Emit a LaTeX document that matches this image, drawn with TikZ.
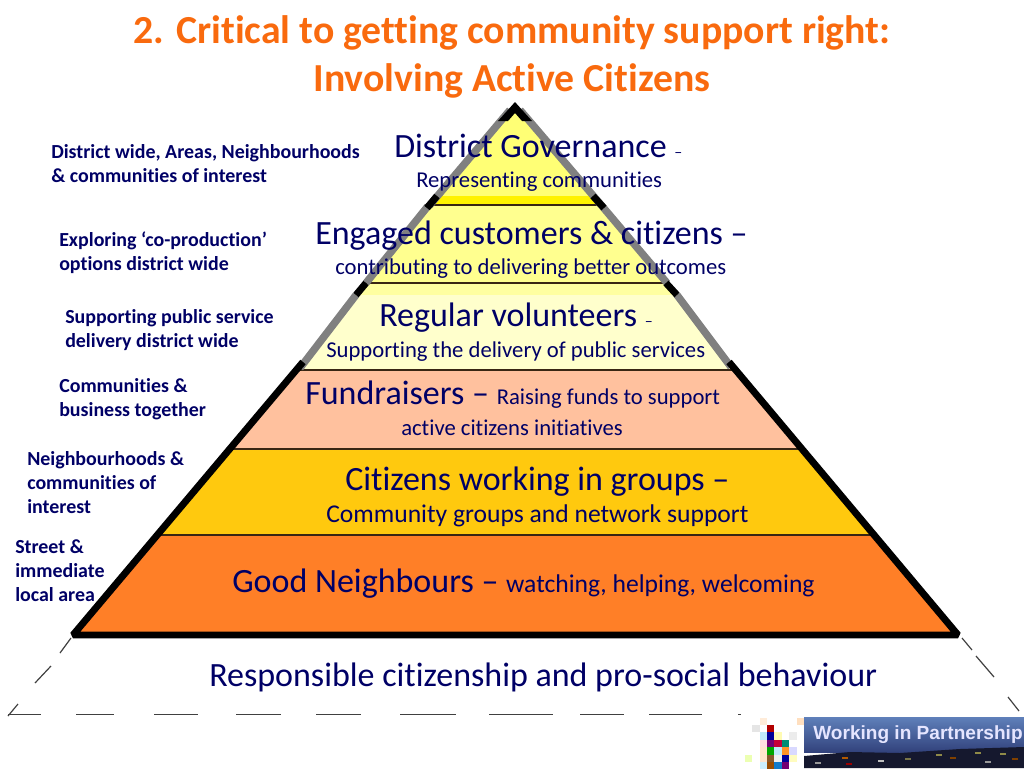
\documentclass[tikz,border=0pt]{standalone}
\usepackage{fontspec}
\setmainfont{Carlito}[Ligatures=NoCommon]
\newfontfamily\logofont{Liberation Sans}
\definecolor{navytext}{HTML}{000066}
\definecolor{titleorange}{HTML}{F96A0E}
\definecolor{layerone}{HTML}{FFFF75}
\definecolor{layertwo}{HTML}{FFFF8F}
\definecolor{layerband}{HTML}{FFFFA0}
\definecolor{layerthree}{HTML}{FFFFCC}
\definecolor{layerfour}{HTML}{FFC19E}
\definecolor{layerfive}{HTML}{FFC90E}
\definecolor{layersix}{HTML}{FF7F27}
\definecolor{skytop}{HTML}{5F80BA}
\definecolor{skylow}{HTML}{32427C}
\definecolor{townnight}{HTML}{15182E}
\tikzset{
	headline/.style={anchor=base, inner sep=0pt, text=titleorange, font=\fontsize{29.8}{29.8}\selectfont\bfseries},
	sidenote/.style={anchor=base west, inner sep=0pt, text=navytext, font=\fontsize{14.95}{14.95}\selectfont\bfseries},
	bigline/.style={anchor=base west, inner sep=0pt, text=navytext, font=\fontsize{25.5}{25.5}\selectfont},
	smallline/.style={anchor=base west, inner sep=0pt, text=navytext, font=\fontsize{17}{17}\selectfont},
	layerline/.style={line width=0.85pt, black!70!brown},
	edgeblack/.style={line width=5.2pt, black},
	edgegray/.style={line width=5.6pt, gray},
	dashpiece/.style={line width=0.9pt, black!75},
}
\begin{document}
\begin{tikzpicture}[x=0.75pt,y=-0.75pt]
	\useasboundingbox (0,0) rectangle (1024,768);
	% layers of the pyramid
	\fill[layerone] (515,103)--(429,205)--(601,205)--cycle;
	\fill[yellow] (436,196)--(594,196)--(601,205)--(429,205)--cycle;
	\fill[layertwo] (429,205)--(601,205)--(667,283)--(365,283)--cycle;
	\fill[layerband] (365,283)--(667,283)--(677,295)--(355,295)--cycle;
	\fill[layerthree] (355,295)--(677,295)--(735,370)--(295,370)--cycle;
	\fill[layerfour] (295,370)--(735,370)--(802,449)--(231,449)--cycle;
	\fill[layerfive] (231,449)--(802,449)--(873,535)--(159,535)--cycle;
	\fill[layersix] (159,535)--(873,535)--(958,635)--(75,635)--cycle;
	\foreach \ya/\xa/\xb in {205/429/601,283/365/667,370/295/735,449/231/802,535/159/873}
		\draw[layerline] (\xa,\ya)--(\xb,\ya);
	% outline, gray with black pieces
	\draw[edgegray] (428,206)--(366,283);
	\draw[edgegray] (429,206)--(510,110);
	\draw[edgegray] (602,206)--(520,110);
	\draw[edgegray] (602,206)--(667,283);
	\draw[edgegray] (356,295)--(300,368);
	\draw[edgegray] (677,295)--(731,367);
	\fill[black] (515,102)--(532,121)--(522,121)--(515,113)--(508,121)--(498,121)--cycle;
	\draw[edgeblack] (437,196)--(427,208);
	\draw[edgeblack] (593,196)--(604,208);
	\draw[edgeblack] (366,283)--(356,295);
	\draw[edgeblack] (666,283)--(677,295);
	\draw[edgeblack, line join=bevel] (303,362)--(73,635)--(958,635)--(729,362);
	% dashed ground of the pyramid
	\foreach \xa/\xb in {8/41,76/114,154/198,236/281,316/361,400/456,489/553,580/624,649/702,738/741}
		\draw[dashpiece] (\xa,714.5)--(\xb,714.5);
	\foreach \xa/\ya/\xb/\yb in {71/638/60/653,51/666/35/683,18/704/8/716,962/638/972/650,976/656/994/677,1008/697/1019/711}
		\draw[dashpiece] (\xa,\ya)--(\xb,\yb);
	% title
	\node[headline] (titleone) at (512,43) {2. Critical to getting community support right:};
	\node[headline] (titletwo) at (512,91) {Involving Active Citizens};
	% notes left of the pyramid
	\node[sidenote] (noteone) at (51,158) {District wide, Areas, Neighbourhoods};
	\node[sidenote] (noteonea) at (51,182) {\& communities of interest};
	\node[sidenote] (notetwo) at (59,246) {Exploring ‘co-production’};
	\node[sidenote] (notetwoa) at (59,270) {options district wide};
	\node[sidenote] (notethree) at (65,323) {Supporting public service};
	\node[sidenote] (notethreea) at (65,347) {delivery district wide};
	\node[sidenote] (notefour) at (59,392) {Communities \&};
	\node[sidenote] (notefoura) at (59,416) {business together};
	\node[sidenote] (notefive) at (27,465) {Neighbourhoods \&};
	\node[sidenote] (notefivea) at (27,489) {communities of};
	\node[sidenote] (notefiveb) at (27,513) {interest};
	\node[sidenote] (notesix) at (15,553) {Street \&};
	\node[sidenote] (notesixa) at (15,577) {immediate};
	\node[sidenote] (notesixb) at (15,601) {local area};
	% texts in the pyramid
	\node[bigline] (govern) at (394,157) {District Governance \fontsize{12}{12}\selectfont –};
	\node[smallline] (governa) at (416,187) {Representing communities};
	\node[bigline] (engaged) at (315,244) {Engaged customers \& citizens –};
	\node[smallline] (engageda) at (335,274) {contributing to delivering better outcomes};
	\node[bigline] (regular) at (379,326) {Regular volunteers \fontsize{12}{12}\selectfont –};
	\node[smallline] (regulara) at (326,357) {Supporting the delivery of public services};
	\node[bigline] (funds) at (305,404) {Fundraisers – \fontsize{17}{17}\selectfont Raising funds to support};
	\node[smallline] (fundsa) at (401,435) {active citizens initiatives};
	\node[bigline] (groups) at (345,490) {Citizens working in groups –};
	\node[smallline, font=\fontsize{19.2}{19.2}\selectfont] (groupsa) at (326,522) {Community groups and network support};
	\node[bigline] (neighbours) at (232,592) {Good Neighbours – \fontsize{19.2}{19.2}\selectfont watching, helping, welcoming};
	\node[bigline] (citizens) at (209,686) {Responsible citizenship and pro-social behaviour};
	% logo squares
	\foreach \cx/\cy/\cc in {
		-1/-1/orange!15,4/-1/orange!25,-2/0/gray!20,0/0/red!70!black,
		-1/1/cyan!25,0/1/blue!60!black,1/1/yellow!30,3/1/gray!15,
		-1/2/pink!50,0/2/violet!90!black,1/2/purple!90!red,2/2/teal!90!green,
		-1/3/orange!20,0/3/green!65!black,1/3/cyan!25,2/3/orange!85,3/3/blue!15,
		-3/4/lime!30,-1/4/orange!20,0/4/brown!70!black,1/4/gray!12,2/4/blue!60!black,3/4/yellow!25,
		-1/5/cyan!20,0/5/orange!60!black,1/5/cyan!60!blue,2/5/violet!90!black}
		\fill[\cc] ({767+7.4*\cx},{725+7.4*\cy}) rectangle ++(7.4,7.4);
	% banner with the town at dusk
	\fill[top color=skytop, bottom color=skylow] (804,717) rectangle (1024,752);
	\fill[townnight] (804,768)--(804,756)--(850,752)--(900,753)--(960,749)--(1024,747)--(1024,768)--cycle;
	\foreach \lx/\ly/\lc in {815/762/gray!80,842/757/orange!70!black,846/763/red!60!black,878/760/gray!50,905/758/yellow!40!black,936/754/yellow!50!black,950/757/orange!50!black,975/752/yellow!50!black,985/761/gray!80,1000/753/yellow!50!black,1012/758/orange!50!black}
		\fill[\lc] (\lx,\ly) rectangle ++(6,1.5);
	\node[anchor=base west, inner sep=0pt, text=white!90!blue, font=\logofont\fontsize{14.3}{14.3}\selectfont\bfseries] (banner) at (813,739) {Working in Partnership};
\end{tikzpicture}
\end{document}
